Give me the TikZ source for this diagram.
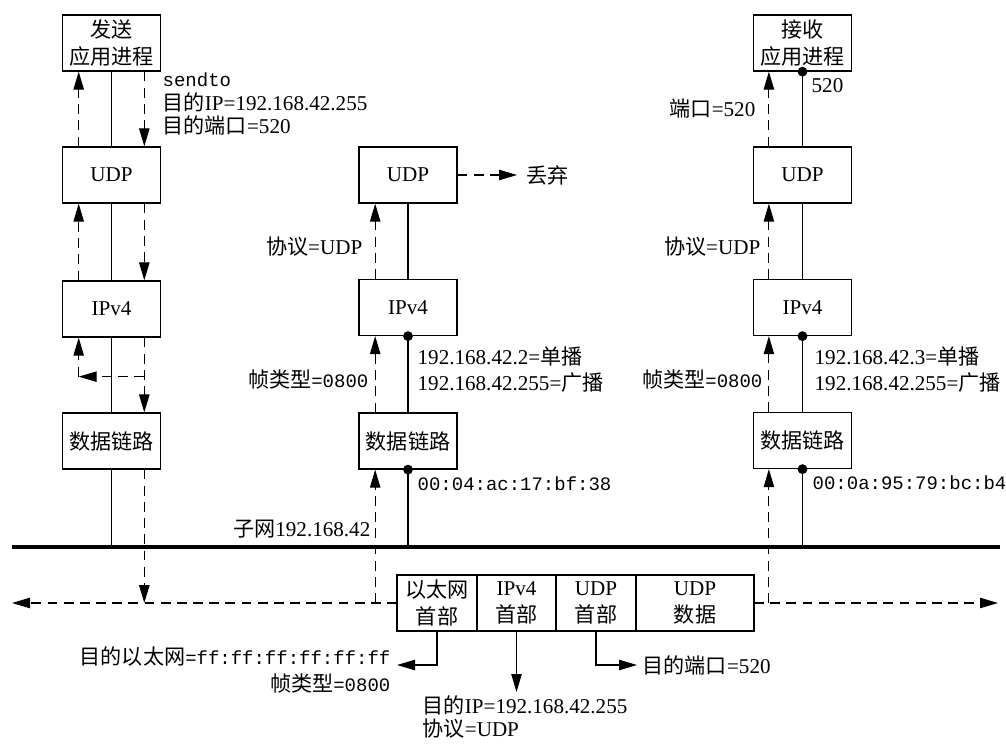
\documentclass[tikz,border=0pt]{standalone}
\usepackage{fontspec}
\setmainfont{Liberation Serif}
\setmonofont{Liberation Mono}
\newfontfamily\cjk{Noto Sans CJK SC}
\newcommand{\zh}[1]{{\cjk #1}}
\usetikzlibrary{arrows.meta,positioning}

\begin{document}
\begin{tikzpicture}[x=0.025cm,y=-0.025cm,font=\fontsize{15}{18.5}\selectfont,
layer/.style={draw,line width=0.9pt,minimum width=2.45cm,minimum height=1.4cm,inner sep=0pt,align=center,font=\fontsize{15}{19.5}\selectfont},
cell/.style={draw,line width=0.9pt,minimum height=1.4cm,inner sep=0pt,outer sep=0pt,align=center,font=\fontsize{15}{19}\selectfont},
flow/.style={dash pattern=on 7pt off 4.5pt,line width=0.8pt,-{Triangle[length=0.45cm,width=0.26cm]}},
tip/.style={line width=0.8pt,-{Triangle[length=0.45cm,width=0.26cm]}},
lbl/.style={inner sep=1pt}]
\useasboundingbox (0,0) rectangle (1006,743);

% sending host
\node[layer] (appA) at (111.5,43) {\zh{发送}\\\zh{应用进程}};
\node[layer] (udpA) at (111.5,175) {UDP};
\node[layer] (ipA) at (111.5,309) {IPv4};
\node[layer] (dlA) at (111.5,441) {\zh{数据链路}};
% other host
\node[layer] (udpB) at (408,175) {UDP};
\node[layer] (ipB) at (408,307.5) {IPv4};
\node[layer] (dlB) at (408,441) {\zh{数据链路}};
% receiving host
\node[layer] (appC) at (802.5,43) {\zh{接收}\\\zh{应用进程}};
\node[layer] (udpC) at (802.5,175) {UDP};
\node[layer] (ipC) at (802.5,307.5) {IPv4};
\node[layer] (dlC) at (802.5,440.5) {\zh{数据链路}};

% subnet
\coordinate (busW) at (12,547);
\coordinate (busE) at (1000,547);
\draw[line width=3pt] (busW)--(busE);
\draw[line width=0.8pt] (appA)--(udpA)--(ipA)--(dlA)--(dlA|-busW);
\draw[line width=0.8pt] (udpB)--(ipB)--(dlB)--(dlB|-busW);
\draw[line width=0.8pt] (appC)--(udpC)--(ipC)--(dlC)--(dlC|-busW);
\foreach \p in {ipB.south,dlB.south,appC.south,ipC.south,dlC.south}
  \fill (\p) circle[radius=3.5pt];

% frame
\node[cell,minimum width=2cm] (ethH) at (437,603) {\zh{以太网}\\\zh{首部}};
\node[cell,minimum width=1.975cm,right=0pt of ethH] (ipH) {IPv4\\\zh{首部}};
\node[cell,minimum width=2cm,right=0pt of ipH] (udpH) {UDP\\\zh{首部}};
\node[cell,minimum width=2.95cm,right=0pt of udpH] (udpD) {UDP\\\zh{数据}};
\coordinate (farW) at (12,603);
\coordinate (farE) at (998,603);
\draw[flow] (ethH.west)--(farW);
\draw[flow] (udpD.east)--(farE);

% sending path
\foreach \a/\b in {appA/udpA,udpA/ipA,ipA/dlA}
  \draw[flow] ([xshift=0.82cm]\a.south)--([xshift=0.82cm]\b.north);
\foreach \a/\b in {udpA/appA,ipA/udpA}
  \draw[flow] ([xshift=-0.82cm]\a.north)--([xshift=-0.82cm]\b.south);
\coordinate (downA) at ([xshift=0.82cm]dlA.south);
\draw[flow] (downA)--(downA|-farW);
\coordinate (turnR) at ([xshift=0.82cm,yshift=-0.975cm]ipA.south);
\coordinate (turnL) at ([xshift=-0.82cm,yshift=-0.975cm]ipA.south);
\draw[flow] (turnR)--(turnL);
\draw[flow] (turnL)--([xshift=-0.82cm]ipA.south);

% receiving paths
\coordinate (upB) at ([xshift=-0.82cm]dlB.south);
\draw[flow] (upB|-farW)--(upB);
\foreach \a/\b in {dlB/ipB,ipB/udpB}
  \draw[flow] ([xshift=-0.82cm]\a.north)--([xshift=-0.82cm]\b.south);
\coordinate (dropTip) at (517,175);
\draw[flow] (udpB.east)--(dropTip);
\node[lbl,right=0.2cm of dropTip] (dropB) {\zh{丢弃}};
\coordinate (upC) at ([xshift=-0.84cm]dlC.south);
\draw[flow] (upC|-farW)--(upC);
\foreach \a/\b in {dlC/ipC,ipC/udpC,udpC/appC}
  \draw[flow] ([xshift=-0.84cm]\a.north)--([xshift=-0.84cm]\b.south);

% labels
\node[lbl,anchor=west,align=left,font=\fontsize{15}{16.5}\selectfont] (sendA) at (161,104)
  {{\fontsize{13.5}{16}\ttfamily sendto}\\\zh{目的}IP=192.168.42.255\\\zh{目的端口}=520};
\node[lbl,anchor=east] (protoB) at (364,247) {\zh{协议}=UDP};
\node[lbl,anchor=east] (typeB) at (370,380) {\zh{帧类型}{\fontsize{13.5}{16}\ttfamily=0800}};
\node[lbl,anchor=west,align=left] (addrB) at (416,370) {192.168.42.2=\zh{单播}\\192.168.42.255=\zh{广播}};
\node[lbl,anchor=west,font=\fontsize{13.5}{16}\ttfamily] (macB) at (416,484) {00:04:ac:17:bf:38};
\node[lbl,anchor=east] (netB) at (372,529) {\zh{子网}192.168.42};
\node[lbl,anchor=west] (portC) at (810,86) {520};
\node[lbl,anchor=east] (dportC) at (757,109) {\zh{端口}=520};
\node[lbl,anchor=east] (protoC) at (762,247) {\zh{协议}=UDP};
\node[lbl,anchor=east] (typeC) at (764,380) {\zh{帧类型}{\fontsize{13.5}{16}\ttfamily=0800}};
\node[lbl,anchor=west,align=left] (addrC) at (813,370) {192.168.42.3=\zh{单播}\\192.168.42.255=\zh{广播}};
\node[lbl,anchor=west,font=\fontsize{13.5}{16}\ttfamily] (macC) at (811,483) {00:0a:95:79:bc:b4};

% frame fields
\coordinate (ethTip) at (397,665);
\draw[tip] (ethH.south)|-(ethTip);
\node[lbl,anchor=east,align=right,font=\fontsize{15}{19}\selectfont] (ethL) at (392,670)
  {\zh{目的以太网}{\fontsize{13.5}{16}\ttfamily=ff:ff:ff:ff:ff:ff}\\\zh{帧类型}{\fontsize{13.5}{16}\ttfamily=0800}};
\coordinate (ipTip) at (ipH.south|-0,692);
\draw[tip] (ipH.south)--(ipTip);
\node[lbl,anchor=west,align=left,font=\fontsize{15}{16.5}\selectfont] (ipL) at (421,717)
  {\zh{目的}IP=192.168.42.255\\\zh{协议}=UDP};
\coordinate (udpTip) at (637,665);
\draw[tip] (udpH.south)|-(udpTip);
\node[lbl,anchor=west] (udpL) at (641,665) {\zh{目的端口}=520};
\end{tikzpicture}
\end{document}
